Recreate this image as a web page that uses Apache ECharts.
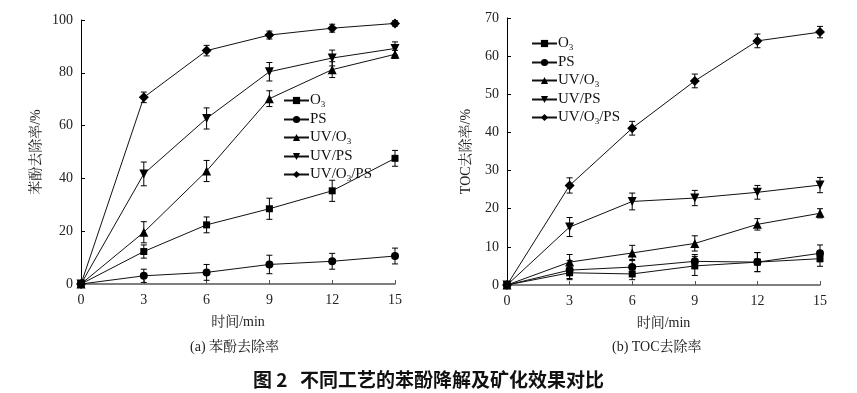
<!DOCTYPE html>
<html><head><meta charset="utf-8">
<script src="https://cdn.jsdelivr.net/npm/echarts@6/dist/echarts.min.js"></script>
<style>html,body{margin:0;padding:0;background:#fff}#c{width:857px;height:393px}</style>
</head><body><div id="c"></div>
<script>
// ---- data ----
const times = [0, 3, 6, 9, 12, 15];
const seriesNames = ['O3', 'PS', 'UV/O3', 'UV/PS', 'UV/O3/PS'];
// (a) phenol removal %
const phenolO3 = [0, 12.3, 22.4, 28.5, 35.3, 47.6];
const phenolPS = [0, 3.1, 4.4, 7.4, 8.6, 10.6];
const phenolUVO3 = [0, 19.6, 42.8, 70.2, 81.2, 87.0];
const phenolUVPS = [0, 41.7, 62.7, 80.4, 85.6, 89.2];
const phenolUVO3PS = [0, 70.7, 88.4, 94.3, 96.9, 98.7];
const phenolErrO3 = [0, 2.5, 3, 4, 4, 3];
const phenolErrPS = [0, 2.5, 3, 3.5, 3, 3];
const phenolErrUVO3 = [0, 4, 4, 3, 3, 1.5];
const phenolErrUVPS = [0, 4.5, 4, 3.5, 3, 2.5];
const phenolErrUVO3PS = [0, 2, 2, 1.5, 1.5, 1];
// (b) TOC removal %
const tocO3 = [0, 3.2, 2.9, 5.0, 6.0, 6.9];
const tocPS = [0, 3.9, 4.7, 6.2, 6.0, 8.3];
const tocUVO3 = [0, 6.0, 8.4, 10.9, 15.9, 18.8];
const tocUVPS = [0, 15.2, 21.9, 22.8, 24.3, 26.2];
const tocUVO3PS = [0, 26.1, 41.1, 53.5, 64.0, 66.3];
const tocErrO3 = [0, 1.5, 1.5, 2.5, 2.5, 2];
const tocErrPS = [0, 2.5, 2, 1.8, 2.5, 2.2];
const tocErrUVO3 = [0, 2, 2, 2, 1.5, 1.2];
const tocErrUVPS = [0, 2.5, 2.2, 2, 1.8, 2];
const tocErrUVO3PS = [0, 2, 1.8, 1.8, 1.8, 1.5];
// axis ticks
const xTicks = {min: 0, max: 15, interval: 3};
const yTicksA = {min: 0, max: 100, interval: 20};
const yTicksB = {min: 0, max: 70, interval: 10};

// ---- styles ----
const serif = "'Liberation Serif','Times New Roman','Noto Serif CJK SC','Noto Sans CJK SC',serif";
const symbols = [
  {symbol: 'rect', size: 7, rotate: 0},
  {symbol: 'circle', size: 8, rotate: 0},
  {symbol: 'triangle', size: 9, rotate: 0},
  {symbol: 'triangle', size: 9, rotate: 180},
  {symbol: 'diamond', size: 10, rotate: 0}
];

function lineSeries(name, vals, idx, k) {
  const s = symbols[k];
  return {
    type: 'line', name: name, xAxisIndex: idx, yAxisIndex: idx,
    data: times.map((t, i) => [t, vals[i]]),
    symbol: s.symbol, symbolSize: s.size, symbolRotate: s.rotate,
    lineStyle: {color: '#111', width: 1},
    itemStyle: {color: '#000'},
    z: 3, animation: false
  };
}
function errSeries(vals, errs, idx) {
  return {
    type: 'custom', name: 'err', xAxisIndex: idx, yAxisIndex: idx,
    data: times.map((t, i) => [t, vals[i], errs[i]]),
    silent: true, z: 2, animation: false,
    renderItem: function (params, api) {
      const x = api.value(0), y = api.value(1), e = api.value(2);
      if (!e) return null;
      const top = api.coord([x, y + e]), bot = api.coord([x, y - e]);
      const w = 3;
      const st = {stroke: '#000', lineWidth: 1};
      return {type: 'group', children: [
        {type: 'line', shape: {x1: top[0], y1: top[1], x2: bot[0], y2: bot[1]}, style: st},
        {type: 'line', shape: {x1: top[0] - w, y1: top[1], x2: top[0] + w, y2: top[1]}, style: st},
        {type: 'line', shape: {x1: bot[0] - w, y1: bot[1], x2: bot[0] + w, y2: bot[1]}, style: st}
      ]};
    }
  };
}

const aVals = [phenolO3, phenolPS, phenolUVO3, phenolUVPS, phenolUVO3PS];
const aErrs = [phenolErrO3, phenolErrPS, phenolErrUVO3, phenolErrUVPS, phenolErrUVO3PS];
const bVals = [tocO3, tocPS, tocUVO3, tocUVPS, tocUVO3PS];
const bErrs = [tocErrO3, tocErrPS, tocErrUVO3, tocErrUVPS, tocErrUVO3PS];

const series = [];
aVals.forEach((v, k) => series.push(errSeries(v, aErrs[k], 0)));
bVals.forEach((v, k) => series.push(errSeries(v, bErrs[k], 1)));
aVals.forEach((v, k) => series.push(lineSeries(seriesNames[k], v, 0, k)));
bVals.forEach((v, k) => series.push(lineSeries(seriesNames[k], v, 1, k)));

function xAxis(idx) {
  return {
    type: 'value', gridIndex: idx, min: xTicks.min, max: xTicks.max, interval: xTicks.interval,
    name: '时间/min', nameLocation: 'middle', nameGap: 31,
    nameTextStyle: {fontFamily: serif, fontSize: 14, color: '#222'},
    axisLine: {lineStyle: {color: '#555', width: 1.5}},
    axisTick: {inside: true, length: 4, lineStyle: {color: '#555'}},
    axisLabel: {fontFamily: serif, fontSize: 14, color: '#222', margin: 9},
    splitLine: {show: false}
  };
}
function yAxis(idx, t, name, gap) {
  return {
    type: 'value', gridIndex: idx, min: t.min, max: t.max, interval: t.interval,
    name: name, nameLocation: 'middle', nameGap: gap, nameRotate: 90,
    nameTextStyle: {fontFamily: serif, fontSize: 14, color: '#222'},
    axisLine: {show: true, lineStyle: {color: '#000', width: 1}},
    axisTick: {show: true, inside: true, length: 4, lineStyle: {color: '#000'}},
    axisLabel: {fontFamily: serif, fontSize: 14, color: '#222', margin: 8},
    splitLine: {show: false}
  };
}
function legend(left, top) {
  return {
    data: seriesNames, left: left, top: top, orient: 'vertical',
    itemWidth: 25, itemHeight: 9, itemGap: 3, selectedMode: false,
    formatter: n => n.replace(/O3/g, 'O{sub|3}'),
    textStyle: {fontFamily: serif, fontSize: 15, color: '#111', padding: [0, 0, 0, -4],
      rich: {sub: {fontFamily: serif, fontSize: 9, color: '#111', padding: [8, 0, 0, 0]}}}
  };
}

const chart = echarts.init(document.getElementById('c'));
chart.setOption({
  backgroundColor: '#fff',
  animation: false,
  grid: [
    {left: 81, top: 20, width: 314, height: 264},
    {left: 507, top: 18, width: 313, height: 267}
  ],
  xAxis: [xAxis(0), xAxis(1)],
  yAxis: [yAxis(0, yTicksA, '苯酚去除率/%', 38), yAxis(1, yTicksB, 'TOC去除率/%', 34)],
  legend: [legend(278, 88), legend(526, 31)],
  series: series,
  graphic: [
    {type: 'text', left: 190, top: 340, style: {text: '(a) 苯酚去除率', font: "14px " + serif, fill: '#222'}},
    {type: 'text', left: 612, top: 340, style: {text: '(b) TOC去除率', font: "14px " + serif, fill: '#222'}},
    {type: 'text', left: 253, top: 370, style: {text: '图 2', font: "bold 19px 'Noto Sans CJK SC',sans-serif", fill: '#111'}},
    {type: 'text', left: 300, top: 370, style: {text: '不同工艺的苯酚降解及矿化效果对比', font: "bold 19px 'Noto Sans CJK SC',sans-serif", fill: '#111'}}
  ]
});
</script></body></html>
